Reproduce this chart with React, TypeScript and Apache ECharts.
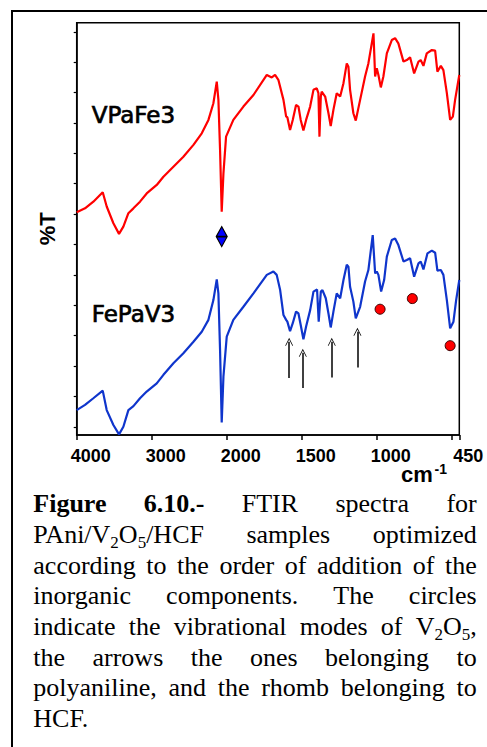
import React, { useEffect, useRef } from "react";
import * as echarts from "echarts";

// ---- data (wavenumber in cm-1, %T in arbitrary units) ----
const redWn = [4000,3889,3778,3653,3600,3511,3436,3378,3311,3244,3156,3067,2933,2844,2711,2578,2444,2333,2244,2178,2133,2111,2089,2067,2044,2009,1956,1889,1822,1733,1700,1678,1656,1622,1604,1596,1578,1560,1538,1522,1507,1489,1471,1444,1422,1400,1389,1382,1373,1367,1344,1322,1307,1289,1267,1244,1222,1200,1189,1178,1156,1140,1111,1078,1056,1022,1011,1000,989,973,956,933,900,878,856,822,800,778,751,722,707,689,667,633,611,596,573,556,533,511,493,478,450];
const redT = [7.33,7.46,7.68,7.99,7.52,6.97,6.62,6.86,7.30,7.46,7.68,7.95,8.23,8.50,8.83,9.16,9.55,9.93,10.37,10.92,11.63,11.03,9.38,7.35,8.61,9.82,10.37,10.81,11.19,11.85,11.77,11.85,11.69,11.03,10.48,10.46,10.04,10.37,10.86,10.81,10.37,10.02,10.37,10.81,11.36,11.41,11.25,9.82,11.14,11.30,11.14,10.59,10.17,10.70,11.25,11.14,11.58,12.23,12.12,11.36,10.59,10.35,11.03,11.80,12.23,13.22,11.80,12.07,11.85,11.44,11.80,12.56,13.00,13.06,12.89,12.29,12.34,12.43,11.90,12.29,12.34,12.15,12.56,12.67,12.65,11.96,12.15,12.01,11.25,10.37,10.48,11.03,11.85];

const blueWn = [4000,3889,3778,3653,3600,3511,3436,3378,3311,3244,3156,3067,2933,2844,2711,2578,2444,2333,2244,2178,2133,2111,2089,2067,2044,2000,1956,1889,1822,1733,1689,1667,1644,1622,1604,1596,1578,1560,1538,1522,1507,1489,1471,1444,1422,1398,1387,1373,1362,1340,1322,1307,1289,1267,1244,1222,1200,1189,1178,1156,1140,1111,1078,1056,1027,1011,1000,989,971,951,933,900,878,856,822,800,778,751,722,707,689,662,633,611,596,573,556,533,511,489,471,450];
const blueT = [0.82,0.99,1.21,1.46,0.82,0.33,0.02,0.27,0.82,0.95,1.21,1.43,1.70,1.98,2.36,2.69,3.07,3.40,3.79,4.44,5.12,4.66,2.80,0.41,1.92,3.24,3.79,4.22,4.66,5.27,5.38,5.27,4.77,3.95,3.79,3.73,3.42,3.68,4.06,4.00,3.62,3.15,3.57,4.11,4.72,4.79,3.73,4.72,4.77,4.50,4.00,3.54,4.06,4.66,4.50,5.10,5.60,5.54,4.88,4.39,3.84,4.22,5.05,5.43,6.58,5.32,5.38,5.27,4.72,5.10,5.87,6.42,6.47,6.25,5.71,5.76,5.82,5.21,5.65,5.71,5.45,5.98,6.07,6.00,5.41,5.43,5.27,4.44,3.51,3.73,4.44,5.10];

// V2O5 circles
const circleWn = [978, 763, 511];
const circleT = [4.14, 4.49, 2.94];
// HCF rhomb
const rhombWn = [2067];
const rhombT = [6.53];
// polyaniline arrows
const arrowWn = [1584, 1493, 1300, 1129];
const arrowFrom = [1.88, 1.55, 1.89, 2.22];
const arrowTo = [3.07, 2.71, 3.07, 3.4];

// axis ticks (wavenumbers)
const xLabelWn = [4000, 3000, 2000, 1500, 1000, 450];
const xTickWn = [4000, 3000, 2000, 1500, 1000, 500, 450];
const yTicks = [0.27, 1.27, 2.27, 3.27, 4.27, 5.27, 6.27, 7.27, 8.27, 9.27, 10.27, 11.27, 12.27, 13.27];

const seriesNames = ["VPaFe3", "FePaV3"];

const captionLines = [
  "*Figure *6.10.- FTIR spectra for",
  "PAni/V_2O_5/HCF samples optimized",
  "according to the order of addition of the",
  "inorganic components. The circles",
  "indicate the vibrational modes of V_2O_5,",
  "the arrows the ones belonging to",
  "polyaniline, and the rhomb belonging to",
  "HCF.",
];

// FTIR split scale: 4000-2000 compressed 2x relative to 2000-450
const toU = (w: number) => (w >= 2000 ? (4000 - w) / 2 : 1000 + (2000 - w));
const fromU = (u: number) => (u <= 1000 ? 4000 - 2 * u : 3000 - u);

function buildCaption(): any[] {
  const ctx = document.createElement("canvas").getContext("2d") as CanvasRenderingContext2D;
  const size = 26;
  const subSize = 17;
  const fam = '"Liberation Serif", "Times New Roman", serif';
  const fontOf = (bold: boolean, sub: boolean) =>
    `${bold ? "bold " : ""}${sub ? subSize : size}px ${fam}`;
  const measure = (t: string, f: string) => {
    ctx.font = f;
    return ctx.measureText(t).width;
  };
  const left = 33.3;
  const right = 476.7;
  const base0 = 512.7;
  const lh = 30.66;
  const els: any[] = [];
  captionLines.forEach((line, li) => {
    const words = line.split(" ").map((w) => {
      const bold = w.startsWith("*");
      const raw = bold ? w.slice(1) : w;
      const segs = raw
        .split(/(_\d)/)
        .filter((s) => s.length > 0)
        .map((s) => {
          const sub = s.startsWith("_");
          const t = sub ? s.slice(1) : s;
          const f = fontOf(bold, sub);
          return { t, sub, f, w: measure(t, f) };
        });
      return { segs, w: segs.reduce((a, s) => a + s.w, 0) };
    });
    const sum = words.reduce((a, w) => a + w.w, 0);
    const justify = li < captionLines.length - 1 && words.length > 1;
    const gap = justify ? (right - left - sum) / (words.length - 1) : measure(" ", fontOf(false, false));
    const base = base0 + li * lh;
    let x = left;
    words.forEach((wd) => {
      wd.segs.forEach((s) => {
        const cy = s.sub ? base + 5 - 0.3375 * subSize : base - 0.3375 * size;
        els.push({
          type: "text",
          x,
          y: cy,
          silent: true,
          style: {
            text: s.t,
            font: s.f,
            fill: "#000",
            align: "left",
            verticalAlign: "middle",
            textAlign: "left",
            textVerticalAlign: "middle",
          },
        });
        x += s.w;
      });
      x += gap;
    });
  });
  return els;
}

export default function App() {
  const ref = useRef<HTMLDivElement>(null);
  useEffect(() => {
    if (!ref.current) return;
    const chart = echarts.init(ref.current, null, { renderer: "svg" });
    const arrowHead = "path://M0,10 L5,0 L10,10 L9,10 L5,2.2 L1,10 Z";
    const rhomb = "path://M5,0 L10,10 L5,20 L0,10 Z M0,10 L10,10";
    const textStyle = (font: string) => ({
      font,
      fill: "#000",
      align: "left",
      verticalAlign: "middle",
      textAlign: "left",
      textVerticalAlign: "middle",
    });
    const labelFont = {
      fontFamily: '"Liberation Sans", Arial, sans-serif',
      fontWeight: "bold",
      fontSize: 18,
      color: "#000",
    };
    const option: any = {
      animation: false,
      backgroundColor: "#fff",
      grid: {
        left: 76.7,
        top: 22.7,
        right: 27.7,
        bottom: 312,
        show: true,
        borderColor: "#000",
        borderWidth: 1.5,
        containLabel: false,
        outerBoundsMode: "none",
      },
      xAxis: {
        type: "value",
        min: 0,
        max: toU(450),
        axisLine: { show: true, lineStyle: { color: "#000", width: 1.5 } },
        axisTick: {
          show: true,
          inside: false,
          length: 5,
          lineStyle: { color: "#000", width: 1.5 },
          customValues: xTickWn.map(toU),
        },
        axisLabel: {
          show: true,
          customValues: xLabelWn.map(toU),
          formatter: (v: number) => {
            const t = String(Math.round(fromU(v)));
            return `{s${t.length}|\u00a0}{v|${t}}`;
          },
          ...labelFont,
          margin: 12,
          align: "center",
          rich: {
            s4: { width: 28, ...labelFont },
            s3: { width: 18, ...labelFont },
            v: { ...labelFont },
          },
        },
        splitLine: { show: false },
      },
      yAxis: {
        type: "value",
        min: 0,
        max: 13.57,
        name: "%T",
        nameLocation: "middle",
        nameRotate: 90,
        nameGap: 18,
        nameTextStyle: {
          fontFamily: '"Liberation Sans", Arial, sans-serif',
          fontWeight: "bold",
          fontSize: 22,
          color: "#000",
        },
        axisLine: { show: true, lineStyle: { color: "#000", width: 1.5 } },
        axisTick: {
          show: true,
          inside: false,
          length: 3,
          lineStyle: { color: "#000", width: 1.2 },
          customValues: yTicks,
        },
        axisLabel: { show: false },
        splitLine: { show: false },
      },
      series: [
        {
          name: seriesNames[0],
          type: "line",
          data: redWn.map((w, i) => [toU(w), redT[i]]),
          showSymbol: false,
          symbol: "none",
          lineStyle: { color: "#ff0000", width: 2.2 },
          z: 3,
        },
        {
          name: seriesNames[1],
          type: "line",
          data: blueWn.map((w, i) => [toU(w), blueT[i]]),
          showSymbol: false,
          symbol: "none",
          lineStyle: { color: "#0f35cc", width: 2.2 },
          z: 3,
        },
        {
          name: "V2O5",
          type: "scatter",
          data: circleWn.map((w, i) => [toU(w), circleT[i]]),
          symbol: "circle",
          symbolSize: 10,
          itemStyle: { color: "#ff0000", borderColor: "#3a0000", borderWidth: 1, opacity: 1 },
          z: 4,
        },
        {
          name: "HCF",
          type: "scatter",
          data: rhombWn.map((w, i) => [toU(w), rhombT[i]]),
          symbol: rhomb,
          symbolSize: [11, 20],
          itemStyle: { color: "#0000ff", borderColor: "#000", borderWidth: 1.2, opacity: 1 },
          z: 4,
        },
        {
          name: "PAni",
          type: "lines",
          coordinateSystem: "cartesian2d",
          data: arrowWn.map((w, i) => ({ coords: [[toU(w), arrowFrom[i]], [toU(w), arrowTo[i]]] })),
          symbol: ["none", arrowHead],
          symbolSize: [8, 8],
          lineStyle: { color: "#000", width: 1.5, opacity: 1 },
          z: 4,
        },
      ],
      graphic: [
        { type: "line", silent: true, shape: { x1: 12, y1: 11, x2: 487, y2: 11 }, style: { stroke: "#000", lineWidth: 2 } },
        { type: "line", silent: true, shape: { x1: 12, y1: 10, x2: 12, y2: 747 }, style: { stroke: "#000", lineWidth: 2 } },
        { type: "text", silent: true, x: 91.7, y: 115, style: { text: seriesNames[0], ...textStyle('23px "DejaVu Sans", sans-serif'), stroke: "#000", lineWidth: 0.7 } },
        { type: "text", silent: true, x: 91.7, y: 313.7, style: { text: seriesNames[1], ...textStyle('23px "DejaVu Sans", sans-serif'), stroke: "#000", lineWidth: 0.7 } },
        { type: "text", silent: true, x: 401, y: 474.4, style: { text: "cm", ...textStyle('bold 22px "Liberation Sans", Arial, sans-serif') } },
        { type: "text", silent: true, x: 434.5, y: 468.5, style: { text: "-1", ...textStyle('bold 14px "Liberation Sans", Arial, sans-serif') } },
        ...buildCaption(),
      ],
    };
    chart.setOption(option);
    return () => chart.dispose();
  }, []);
  return (
    <div
      ref={ref}
      style={{ position: "fixed", left: 0, top: 0, width: 487, height: 747, background: "#fff" }}
    />
  );
}
